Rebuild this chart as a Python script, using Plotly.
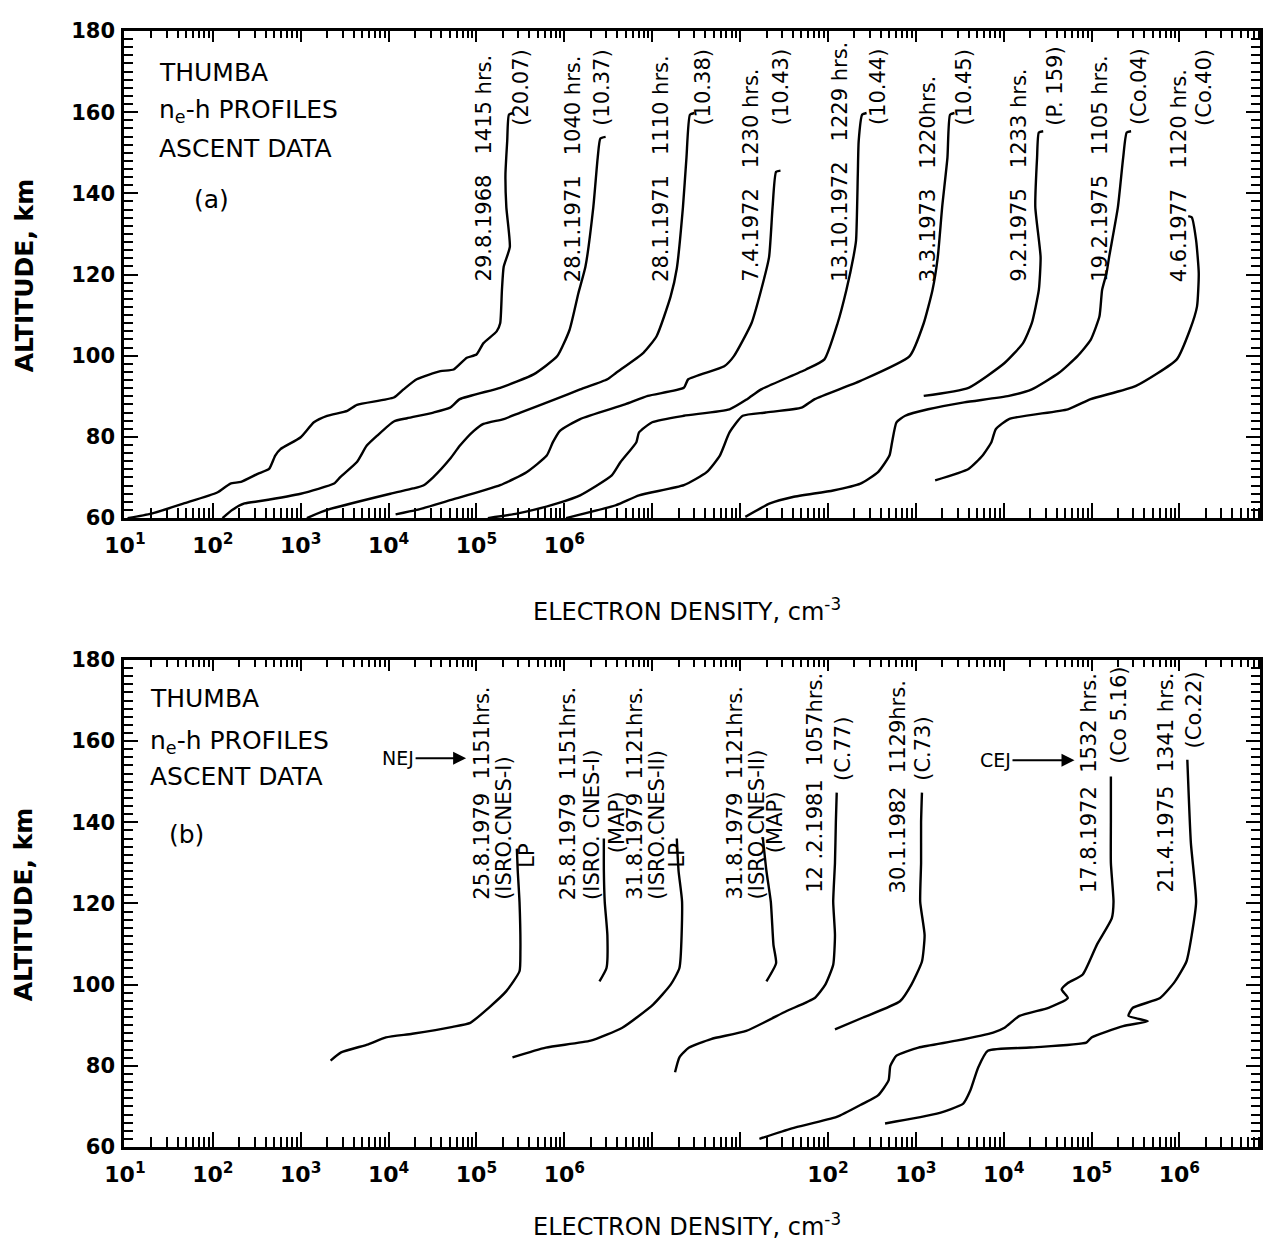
import plotly.graph_objects as go
import math

# ---------------- Panel (a): altitude (km) and log10 electron density on the staggered plotting scale
A1_ALT = [60, 61.1, 63.6, 66.3, 68.5, 68.9, 70.9, 72.1, 75.4, 77.0, 79.9, 83.6, 85.2, 86.4, 87.9, 89.7, 91.7, 94.2, 96.2, 96.6, 99.5, 100.3, 103.1, 106.0, 108.0, 116.2, 121.9, 126.8, 136.6, 144.7, 152.9, 159.4, 159.8]
A1_LOGN = [1.03, 1.30, 1.67, 2.05, 2.20, 2.32, 2.51, 2.64, 2.71, 2.77, 3.00, 3.15, 3.30, 3.53, 3.64, 4.06, 4.17, 4.32, 4.59, 4.74, 4.89, 5.00, 5.08, 5.23, 5.27, 5.29, 5.31, 5.38, 5.34, 5.33, 5.35, 5.37, 5.42]
A2_ALT = [60, 62.0, 63.6, 64.2, 66.0, 68.5, 70.1, 73.8, 77.8, 80.3, 83.8, 84.6, 86.0, 87.2, 89.3, 92.1, 95.4, 99.9, 106.4, 115.4, 121.9, 136.6, 148.8, 153.5, 153.9]
A2_LOGN = [2.11, 2.22, 2.36, 2.54, 3.00, 3.38, 3.45, 3.64, 3.75, 3.87, 4.06, 4.21, 4.51, 4.70, 4.81, 5.27, 5.65, 5.92, 6.06, 6.16, 6.24, 6.33, 6.38, 6.41, 6.47]
A3_ALT = [60, 62.0, 66.0, 67.3, 68.1, 70.1, 74.6, 77.8, 81.5, 83.2, 84.4, 86.0, 89.3, 91.7, 94.2, 95.8, 100.7, 104.8, 114.6, 121.5, 136.6, 148.8, 159.4, 159.8]
A3_LOGN = [3.07, 3.30, 4.02, 4.28, 4.40, 4.51, 4.70, 4.81, 4.97, 5.08, 5.31, 5.50, 5.90, 6.18, 6.49, 6.59, 6.90, 7.05, 7.21, 7.28, 7.35, 7.39, 7.43, 7.48]
A4_ALT = [60.9, 62.0, 64.4, 68.1, 71.3, 75.4, 78.7, 81.5, 84.4, 88.0, 90.1, 92.1, 94.2, 97.4, 99.9, 108.0, 116.2, 124.3, 136.6, 145.3, 145.6]
A4_LOGN = [4.08, 4.32, 4.70, 5.27, 5.57, 5.80, 5.87, 5.95, 6.18, 6.69, 6.95, 7.36, 7.41, 7.82, 7.93, 8.13, 8.24, 8.33, 8.37, 8.41, 8.46]
A5_ALT = [60, 61.1, 62.0, 63.6, 65.6, 70.5, 73.8, 78.7, 81.1, 83.6, 85.2, 86.8, 89.3, 91.7, 96.6, 99.1, 108.0, 116.2, 124.3, 128.4, 144.7, 152.9, 159.4, 159.8]
A5_LOGN = [5.13, 5.46, 5.65, 5.92, 6.18, 6.54, 6.64, 6.82, 6.85, 7.00, 7.36, 7.88, 8.08, 8.24, 8.75, 8.96, 9.11, 9.21, 9.29, 9.32, 9.34, 9.35, 9.39, 9.44]
A6_ALT = [60, 63.2, 65.6, 68.1, 71.3, 75.4, 81.1, 85.2, 86.0, 87.2, 89.3, 93.8, 99.9, 108.0, 116.2, 124.3, 136.6, 148.8, 159.4, 159.8]
A6_LOGN = [6.02, 6.59, 6.85, 7.36, 7.62, 7.77, 7.88, 8.03, 8.29, 8.70, 8.85, 9.37, 9.93, 10.09, 10.19, 10.25, 10.30, 10.36, 10.39, 10.44]
A7_ALT = [90.1, 92.1, 98.2, 103.1, 108.0, 116.2, 124.3, 136.6, 148.8, 155.0, 155.3]
A7_LOGN = [10.09, 10.60, 11.01, 11.22, 11.32, 11.40, 11.42, 11.36, 11.38, 11.40, 11.45]
A8_ALT = [60.3, 63.6, 65.2, 66.8, 68.5, 71.3, 75.4, 78.7, 83.6, 85.2, 86.8, 88.5, 90.1, 91.7, 95.8, 99.9, 103.9, 109.7, 116.2, 120.3, 124.3, 136.6, 148.8, 155.0, 155.3]
A8_LOGN = [8.06, 8.34, 8.60, 9.06, 9.37, 9.57, 9.70, 9.73, 9.78, 9.88, 10.14, 10.55, 11.06, 11.32, 11.63, 11.84, 11.99, 12.09, 12.12, 12.17, 12.20, 12.30, 12.36, 12.40, 12.45]
A9_ALT = [69.3, 72.1, 75.4, 78.7, 81.9, 84.4, 86.8, 89.3, 92.5, 99.1, 106.4, 112.1, 120.3, 128.4, 134.1, 134.4]
A9_LOGN = [10.22, 10.60, 10.76, 10.86, 10.91, 11.06, 11.73, 11.99, 12.50, 12.97, 13.12, 13.20, 13.22, 13.19, 13.14, 13.10]

A_DATES = ["29.8.1968", "28.1.1971", "28.1.1971", "7.4.1972", "13.10.1972", "3.3.1973", "9.2.1975", "19.2.1975", "4.6.1977"]
A_TIMES = ["1415 hrs.", "1040 hrs.", "1110 hrs.", "1230 hrs.", "1229 hrs.", "1220hrs.", "1233 hrs.", "1105 hrs.", "1120 hrs."]
A_CODES = ["(20.07)", "(10.37)", "(10.38)", "(10.43)", "(10.44)", "(10.45)", "(P. 159)", "(Co.04)", "(Co.40)"]

# ---------------- Panel (b)
B1_ALT = [81.3, 83.3, 85.3, 87.0, 87.9, 89.6, 90.6, 94.3, 98.4, 103.3, 108.1, 120.4, 128.0, 133.5]
B1_LOGN = [3.34, 3.46, 3.77, 3.97, 4.27, 4.73, 4.93, 5.14, 5.34, 5.49, 5.50, 5.49, 5.47, 5.46]
B2_ALT = [100.8, 104.1, 112.2, 120.4, 128.0, 136.0]
B2_LOGN = [6.40, 6.48, 6.49, 6.46, 6.45, 6.45]
B3_ALT = [82.1, 84.5, 86.2, 89.4, 95.1, 100.0, 104.1, 120.4, 128.0, 136.0]
B3_LOGN = [5.41, 5.79, 6.30, 6.66, 7.01, 7.21, 7.31, 7.34, 7.30, 7.28]
B4_ALT = [100.8, 105.3, 109.8, 120.4, 128.0, 136.0]
B4_LOGN = [8.30, 8.41, 8.38, 8.35, 8.30, 8.26]
B5_ALT = [78.4, 82.1, 84.5, 86.6, 88.6, 93.5, 96.7, 100.0, 104.9, 112.2, 120.4, 130.0, 140.0, 147.3]
B5_LOGN = [7.26, 7.31, 7.42, 7.67, 8.07, 8.53, 8.85, 8.97, 9.06, 9.08, 9.06, 9.08, 9.09, 9.10]
B6_ALT = [89.0, 91.9, 95.9, 100.0, 105.7, 112.2, 120.4, 130.0, 140.0, 147.3]
B6_LOGN = [9.08, 9.40, 9.82, 9.95, 10.07, 10.10, 10.05, 10.06, 10.06, 10.07]
B7_ALT = [62.0, 64.6, 67.4, 70.7, 72.7, 76.4, 80.0, 82.5, 84.5, 86.2, 88.2, 89.4, 92.3, 94.3, 96.7, 98.8, 100.4, 102.5, 109.8, 116.3, 120.4, 130.0, 140.0, 151.3]
B7_LOGN = [8.22, 8.59, 9.10, 9.40, 9.57, 9.69, 9.71, 9.78, 10.03, 10.46, 10.88, 11.01, 11.18, 11.51, 11.73, 11.66, 11.73, 11.90, 12.06, 12.23, 12.25, 12.22, 12.22, 12.22]
B8_ALT = [65.8, 68.2, 70.7, 73.9, 79.6, 83.7, 84.5, 85.7, 87.0, 89.8, 91.0, 92.3, 94.3, 96.7, 100.8, 105.7, 112.2, 120.4, 135.0, 155.4]
B8_LOGN = [9.65, 10.24, 10.54, 10.62, 10.71, 10.82, 11.30, 11.94, 12.00, 12.36, 12.64, 12.42, 12.47, 12.78, 12.95, 13.08, 13.14, 13.19, 13.13, 13.09]

B_MAIN = ["25.8.1979  1151hrs.", "25.8.1979  1151hrs.", "31.8.1979  1121hrs.", "31.8.1979  1121hrs.",
          "12 .2.1981  1057hrs.", "30.1.1982  1129hrs.", "17.8.1972  1532 hrs.", "21.4.1975  1341 hrs."]
B_CODES = ["(ISRO.CNES-I)", "(ISRO. CNES-I)", "(ISRO.CNES-II)", "(ISRO.CNES-II)", "(C.77)", "(C.73)", "(Co 5.16)", "(Co.22)"]
B_INSTR = ["LP", "(MAP)", "LP", "(MAP)"]

X_TICK_EXP = list(range(1, 14))
A_LABEL_EXP = [1, 2, 3, 4, 5, 6]
A_TICK_TEXT = ["10<sup>%d</sup>" % k for k in A_LABEL_EXP]
B_LABEL_EXP = [1, 2, 3, 4, 5, 6, 9, 10, 11, 12, 13]
B_TICK_TEXT = ["10<sup>%d</sup>" % (k if k <= 6 else k - 7) for k in B_LABEL_EXP]
Y_TICKS = [60, 80, 100, 120, 140, 160, 180]

# ---------------- layout geometry (page body has an 8 px margin, so the figure is offset by 8 px)
OFF = 8
XR = [0.989, 13.917]
FONT = "DejaVu Sans"
FIG_W, FIG_H = 1266, 1232
ML, MR, MT, MB = 116, 11, 14, 93
PW = FIG_W - ML - MR
PH = FIG_H - MT - MB
def px2L(px):
    return XR[0] + (px - OFF - ML) / PW * (XR[1] - XR[0])
def xp(px):
    return (px - OFF - ML) / PW
def yp(py):
    return (FIG_H - MB - (py - OFF)) / PH

fig = go.Figure()
def add(alt, logn, xa, ya):
    fig.add_trace(go.Scatter(x=[10 ** v for v in logn], y=alt, mode="lines",
                             line=dict(color="black", width=2.4, shape="spline", smoothing=0.5),
                             xaxis=xa, yaxis=ya, showlegend=False, hoverinfo="skip"))

for alt, ln in [(A1_ALT, A1_LOGN), (A2_ALT, A2_LOGN), (A3_ALT, A3_LOGN), (A4_ALT, A4_LOGN), (A5_ALT, A5_LOGN),
                (A6_ALT, A6_LOGN), (A7_ALT, A7_LOGN), (A8_ALT, A8_LOGN), (A9_ALT, A9_LOGN)]:
    add(alt, ln, "x", "y")
for alt, ln in [(B1_ALT, B1_LOGN), (B2_ALT, B2_LOGN), (B3_ALT, B3_LOGN), (B4_ALT, B4_LOGN),
                (B5_ALT, B5_LOGN), (B6_ALT, B6_LOGN), (B7_ALT, B7_LOGN), (B8_ALT, B8_LOGN)]:
    add(alt, ln, "x2", "y2")
# empty traces so the extra tick-only axes are registered
for xa, ya in [("x3", "y"), ("x4", "y2"), ("x5", "y"), ("x6", "y2")]:
    fig.add_trace(go.Scatter(x=[], y=[], xaxis=xa, yaxis=ya, showlegend=False))

majors = [10 ** k for k in X_TICK_EXP]
minors = [m * 10 ** k for k in range(0, 14) for m in range(2, 10) if XR[0] <= math.log10(m * 10 ** k) <= XR[1]]
yminor = [v for v in range(60, 181, 2) if v % 20 != 0]

def xaxis_bottom(label_exp, ticktext, anchor):
    return dict(type="log", range=XR, anchor=anchor, showline=True, linewidth=2.5, linecolor="black",
                mirror=True, ticks="inside", ticklen=15, tickwidth=2, tickcolor="black",
                tickmode="array", tickvals=[10 ** k for k in label_exp], ticktext=ticktext,
                tickfont=dict(family=FONT, size=22, color="black", weight="bold"),
                ticklabelstandoff=6,
                minor=dict(tickmode="array", tickvals=minors, ticks="inside", ticklen=10, tickwidth=1.8, tickcolor="black", showgrid=False),
                showgrid=False, zeroline=False)

def xaxis_extra(over, anchor, side, vals, length, minor_len):
    d = dict(type="log", range=XR, overlaying=over, anchor=anchor, side=side, showline=False,
             ticks="inside", ticklen=length, tickwidth=2, tickcolor="black", showticklabels=False,
             tickmode="array", tickvals=vals, showgrid=False, zeroline=False)
    if minor_len:
        d["minor"] = dict(tickmode="array", tickvals=minors, ticks="inside", ticklen=minor_len, tickwidth=1.6, tickcolor="black", showgrid=False)
    return d

def yaxis(domain, anchor):
    return dict(domain=domain, range=[60, 180], anchor=anchor, showline=True, linewidth=2.5, linecolor="black",
                mirror="ticks", ticks="inside", ticklen=14, tickwidth=2, tickcolor="black",
                tickmode="array", tickvals=Y_TICKS, ticklabelstandoff=2,
                tickfont=dict(family=FONT, size=21, color="black", weight="bold"),
                minor=dict(tickmode="array", tickvals=yminor, ticks="inside", ticklen=9, tickwidth=1.8, tickcolor="black", showgrid=False),
                showgrid=False, zeroline=False)

A_DOM = [yp(513), yp(22)]
B_DOM = [yp(1147), yp(656)]

ann = []
def txt(x, y, text, xref, yref, size=21, angle=0, xanchor="center", yanchor="middle", bold=False):
    ann.append(dict(x=x, y=y, xref=xref, yref=yref, text=text, textangle=angle, showarrow=False,
                    xanchor=xanchor, yanchor=yanchor,
                    font=dict(family=FONT, size=size, color="black", weight="bold" if bold else "normal")))

NB = "\u00a0"
# panel (a) curve labels (screen-pixel x positions of the label columns)
A_MAIN_X = [485, 575, 663, 753, 841.7, 930, 1021.7, 1103, 1181.7]
A_CODE_X = [521.7, 603, 705, 783, 880, 966.7, 1058, 1141.7, 1206.7]
for i in range(9):
    txt(px2L(A_MAIN_X[i]), 117.7, A_DATES[i] + NB * 3 + A_TIMES[i], "x", "y", size=21, angle=-90, yanchor="bottom")
    txt(px2L(A_CODE_X[i]), 156.2, A_CODES[i], "x", "y", size=21, angle=-90, yanchor="bottom")

# panel (b) curve labels
B_MAIN_X = [483.3, 570, 636.7, 736.7, 816.7, 900, 1091.7, 1168.3]
B_MAIN_H = [120.4, 120.4, 120.4, 120.4, 122.1, 122.1, 122.1, 122.1]
B_CODE_X = [505, 593.3, 658.3, 758.3, 845, 925, 1121.7, 1196.7]
B_CODE_H = [120.4, 120.4, 120.4, 120.4, 149.7, 149.7, 153.8, 157.8]
B_INSTR_X = [528.5, 618.3, 678.5, 776.7]
B_INSTR_H = [128.4, 131.9, 128.4, 131.9]
for i in range(8):
    txt(px2L(B_MAIN_X[i]), B_MAIN_H[i], B_MAIN[i].replace("  ", NB * 2), "x2", "y2", angle=-90, yanchor="bottom")
    txt(px2L(B_CODE_X[i]), B_CODE_H[i], B_CODES[i], "x2", "y2", angle=-90, yanchor="bottom")
for i in range(4):
    txt(px2L(B_INSTR_X[i]), B_INSTR_H[i], B_INSTR[i], "x2", "y2", angle=-90, yanchor="bottom")

# panel headers
for (xr, yr, left, ys, tag, tagx, tagy) in [("x", "y", 156.7, (169.8, 160.3, 151.1), "(a)", 192, 138.5),
                                            ("x2", "y2", 148, (170.5, 159.9, 151.4), "(b)", 167, 137.0)]:
    txt(px2L(left), ys[0], "THUMBA", xr, yr, size=25, xanchor="left")
    txt(px2L(left), ys[1], "n<sub>e</sub>-h PROFILES", xr, yr, size=25, xanchor="left")
    txt(px2L(left), ys[2], "ASCENT DATA", xr, yr, size=25, xanchor="left")
    txt(px2L(tagx), tagy, tag, xr, yr, size=25, xanchor="left")

# NEJ / CEJ arrows
for label, head_px, cen_px, h in [("NEJ", 467, 399, 155.8), ("CEJ", 1077, 998, 155.3)]:
    ann.append(dict(x=px2L(head_px), y=h, xref="x2", yref="y2", text=label, showarrow=True,
                    ax=cen_px - head_px, ay=0, arrowhead=2, arrowsize=1.3, arrowwidth=2, arrowcolor="black",
                    font=dict(family=FONT, size=19, color="black")))

# axis titles
for ypix in (606, 1226):
    txt(xp(688), yp(ypix), "ELECTRON DENSITY, cm<sup>-3</sup>", "paper", "paper", size=24)
for ypix in (268, 902):
    txt(xp(24), yp(ypix), "ALTITUDE, km", "paper", "paper", size=25, angle=-90, bold=True)

# axis break marks on panel (b)
shapes = []
for (x0, y0, x1, y1) in [(750, 1157, 762, 1133), (756, 1157, 768, 1133), (750, 662, 758, 647), (756, 662, 765, 647)]:
    shapes.append(dict(type="line", xref="x2", yref="paper", x0=px2L(x0), x1=px2L(x1), y0=yp(y0), y1=yp(y1),
                       line=dict(color="black", width=2)))

unlabeled_a = [10 ** k for k in X_TICK_EXP if k not in A_LABEL_EXP]
unlabeled_b = [10 ** k for k in X_TICK_EXP if k not in B_LABEL_EXP]
fig.update_layout(
    width=FIG_W, height=FIG_H, margin=dict(l=ML, r=MR, t=MT, b=MB),
    paper_bgcolor="white", plot_bgcolor="white", showlegend=False,
    xaxis=xaxis_bottom(A_LABEL_EXP, A_TICK_TEXT, "y"), yaxis=yaxis(A_DOM, "x"),
    xaxis2=xaxis_bottom(B_LABEL_EXP, B_TICK_TEXT, "y2"), yaxis2=yaxis(B_DOM, "x2"),
    xaxis3=xaxis_extra("x", "y", "top", majors, 11, 7),
    xaxis4=xaxis_extra("x2", "y2", "top", majors, 11, 7),
    xaxis5=xaxis_extra("x", "y", "bottom", unlabeled_a, 15, 0),
    xaxis6=xaxis_extra("x2", "y2", "bottom", unlabeled_b, 15, 0),
    annotations=ann, shapes=shapes,
)
fig.write_html("out.html")
